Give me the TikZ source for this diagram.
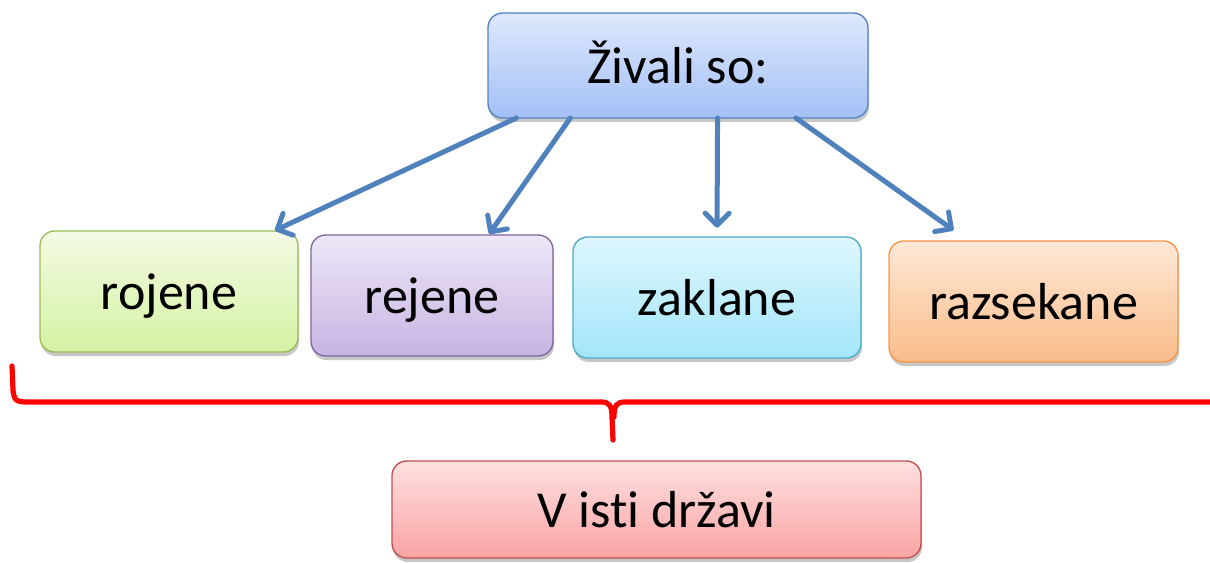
\documentclass[tikz,border=0pt]{standalone}
\usepackage{fontspec}
\setmainfont{Carlito}[Ligatures=NoCommon]
\usetikzlibrary{arrows.meta,shadows}

\definecolor{arrowblue}{RGB}{79,129,189}
\definecolor{bracered}{RGB}{255,0,0}

\tikzset{
  boxbase/.style={draw, line width=1pt, rounded corners=11pt, outer sep=0pt, inner sep=0pt,
    font=\fontsize{39}{47}\selectfont, text=black, text height=29pt, text depth=2pt,
    drop shadow={shadow xshift=0.8pt, shadow yshift=-3pt, opacity=0.22, fill=black}},
  bluebox/.style={boxbase, draw={rgb,255:red,84;green,130;blue,196}, top color={rgb,255:red,222;green,232;blue,253}, bottom color={rgb,255:red,163;green,192;blue,246}},
  greenbox/.style={boxbase, draw={rgb,255:red,155;green,187;blue,89}, top color={rgb,255:red,243;green,251;blue,228}, bottom color={rgb,255:red,213;green,242;blue,163}},
  purplebox/.style={boxbase, draw={rgb,255:red,128;green,100;blue,162}, top color={rgb,255:red,237;green,231;blue,247}, bottom color={rgb,255:red,199;green,180;blue,226}},
  cyanbox/.style={boxbase, draw={rgb,255:red,75;green,172;blue,198}, top color={rgb,255:red,222;green,246;blue,253}, bottom color={rgb,255:red,163;green,230;blue,250}},
  orangebox/.style={boxbase, draw={rgb,255:red,247;green,150;blue,70}, top color={rgb,255:red,254;green,232;blue,214}, bottom color={rgb,255:red,250;green,188;blue,138}},
  redbox/.style={boxbase, draw={rgb,255:red,192;green,80;blue,77}, top color={rgb,255:red,254;green,224;blue,224}, bottom color={rgb,255:red,250;green,163;blue,163}},
  arr/.style={draw=arrowblue, line width=3.75pt, line cap=round,
    -{Straight Barb[length=9pt,width=18pt,line cap=round,line join=round]}},
}

\begin{document}
\begin{tikzpicture}[x=0.75pt,y=0.75pt,yscale=-1,xscale=1]
\useasboundingbox (0,0) rectangle (1210,563);

%Shape: Rounded Rect (top)
\node[bluebox, minimum width=285pt, minimum height=78.75pt] (zivali) at (678,65.5) {Živali so:};

%Shape: Rounded Rect (row)
\node[greenbox, minimum width=193.5pt, minimum height=90.75pt] (rojene) at (169,291.5) {rojene};
\node[purplebox, minimum width=181.5pt, minimum height=90.75pt] (rejene) at (432,295.5) {rejene};
\node[cyanbox, minimum width=216pt, minimum height=90.75pt] (zaklane) at (717,297.5) {zaklane};
\node[orangebox, minimum width=216.75pt, minimum height=90.75pt] (razsekane) at (1033.5,301.5) {razsekane};

%Shape: Rounded Rect (bottom)
\node[redbox, minimum width=396.75pt, minimum height=72.75pt] (drzava) at (656.5,509.5) {V isti državi};

%Straight Lines
\draw[arr, shorten >=1pt] (zivali.198.5) -- (rojene.30.4);
\draw[arr, shorten >=1pt] (zivali.206.6) -- (rejene.47);
\draw[arr, shorten >=7pt] (zivali.307.3) -- (zaklane.north);
\draw[arr, shorten >=14pt] (zivali.336.2) -- (razsekane.137.7);

%Brace
\draw[bracered, line width=3.9pt, line cap=round, line join=round]
  (12,366) -- (13,390) .. controls (14,401) and (17,402) .. (28,402)
  -- (601,402) .. controls (609,402) and (612,405) .. (612,417) -- (613,440);
\draw[bracered, line width=3.9pt, line cap=round, line join=round]
  (1225,402) -- (625,402) .. controls (617,402) and (614,405) .. (614,417);

\end{tikzpicture}
\end{document}
